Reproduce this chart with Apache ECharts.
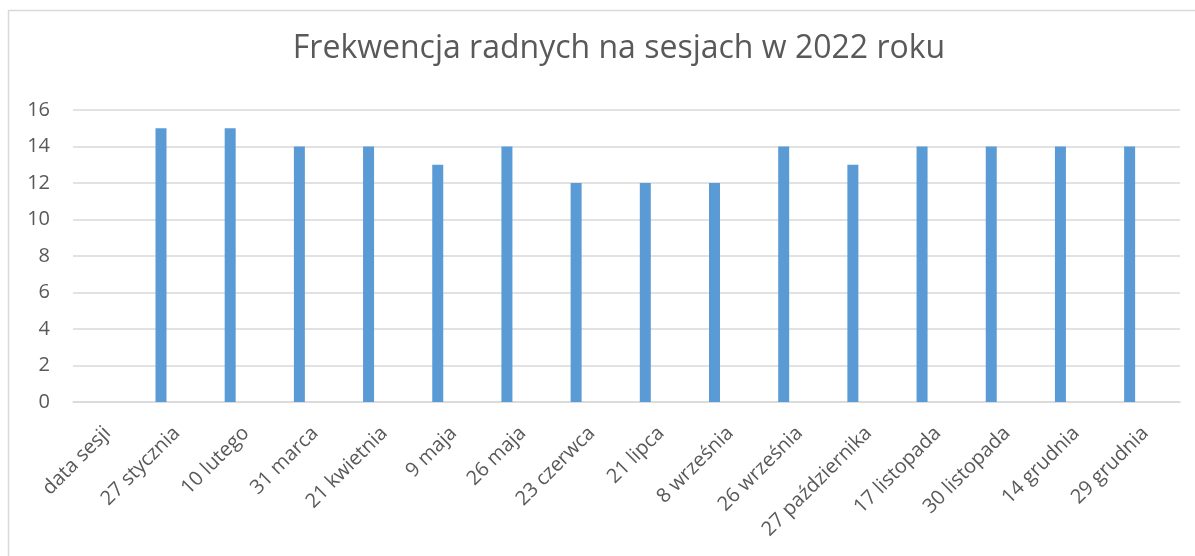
<!DOCTYPE html>
<html>
<head>
<meta charset="utf-8">
<script src="https://cdn.jsdelivr.net/npm/echarts@6/dist/echarts.min.js"></script>
<style>
html,body{margin:0;padding:0;background:#fff;}
#chart{width:1195px;height:556px;}
</style>
</head>
<body>
<div id="chart"></div>
<script>
const title = 'Frekwencja radnych na sesjach w 2022 roku';
const categories = ['data sesji','27 stycznia','10 lutego','31 marca','21 kwietnia','9 maja','26 maja','23 czerwca','21 lipca','8 września','26 września','27 października','17 listopada','30 listopada','14 grudnia','29 grudnia'];
const obecni = [null,15,15,14,14,13,14,12,12,12,14,13,14,14,14,14];
const drugaSeria = [null,null,null,null,null,null,null,null,null,null,null,null,null,null,null,null];
const yTicks = {min:0, max:16, interval:2};

const chart = echarts.init(document.getElementById('chart'), null, {renderer:'canvas'});
const textColor = '#595959';
const font = '"Open Sans", "Noto Sans", sans-serif';
chart.setOption({
  animation:false,
  backgroundColor:'#ffffff',
  title:{
    text:title,
    left:614, top:28, textAlign:'center',
    textStyle:{color:textColor, fontFamily:font, fontWeight:'normal', fontSize:32}
  },
  graphic:[{type:'rect', shape:{x:8.5,y:10.5,width:1300,height:700}, style:{fill:'none', stroke:'#d9d9d9', lineWidth:1.5}, silent:true}],
  grid:{left:73, right:15, top:110, bottom:154, containLabel:false},
  xAxis:{
    type:'category', data:categories,
    axisLine:{lineStyle:{color:'#d9d9d9', width:1.5}},
    axisTick:{show:false},
    axisLabel:{rotate:45, margin:28, color:textColor, fontFamily:font, fontSize:20, interval:0}
  },
  yAxis:{
    type:'value', min:yTicks.min, max:yTicks.max, interval:yTicks.interval,
    axisLine:{show:false}, axisTick:{show:false},
    splitLine:{lineStyle:{color:'#d9d9d9', width:1.5}},
    axisLabel:{margin:23, color:textColor, fontFamily:font, fontSize:20}
  },
  series:[
    {type:'bar', data:obecni, barWidth:11, barGap:'187%', itemStyle:{color:'#5b9bd5'}},
    {type:'bar', data:drugaSeria, barWidth:11, itemStyle:{color:'#ed7d31'}}
  ]
});
</script>
</body>
</html>
